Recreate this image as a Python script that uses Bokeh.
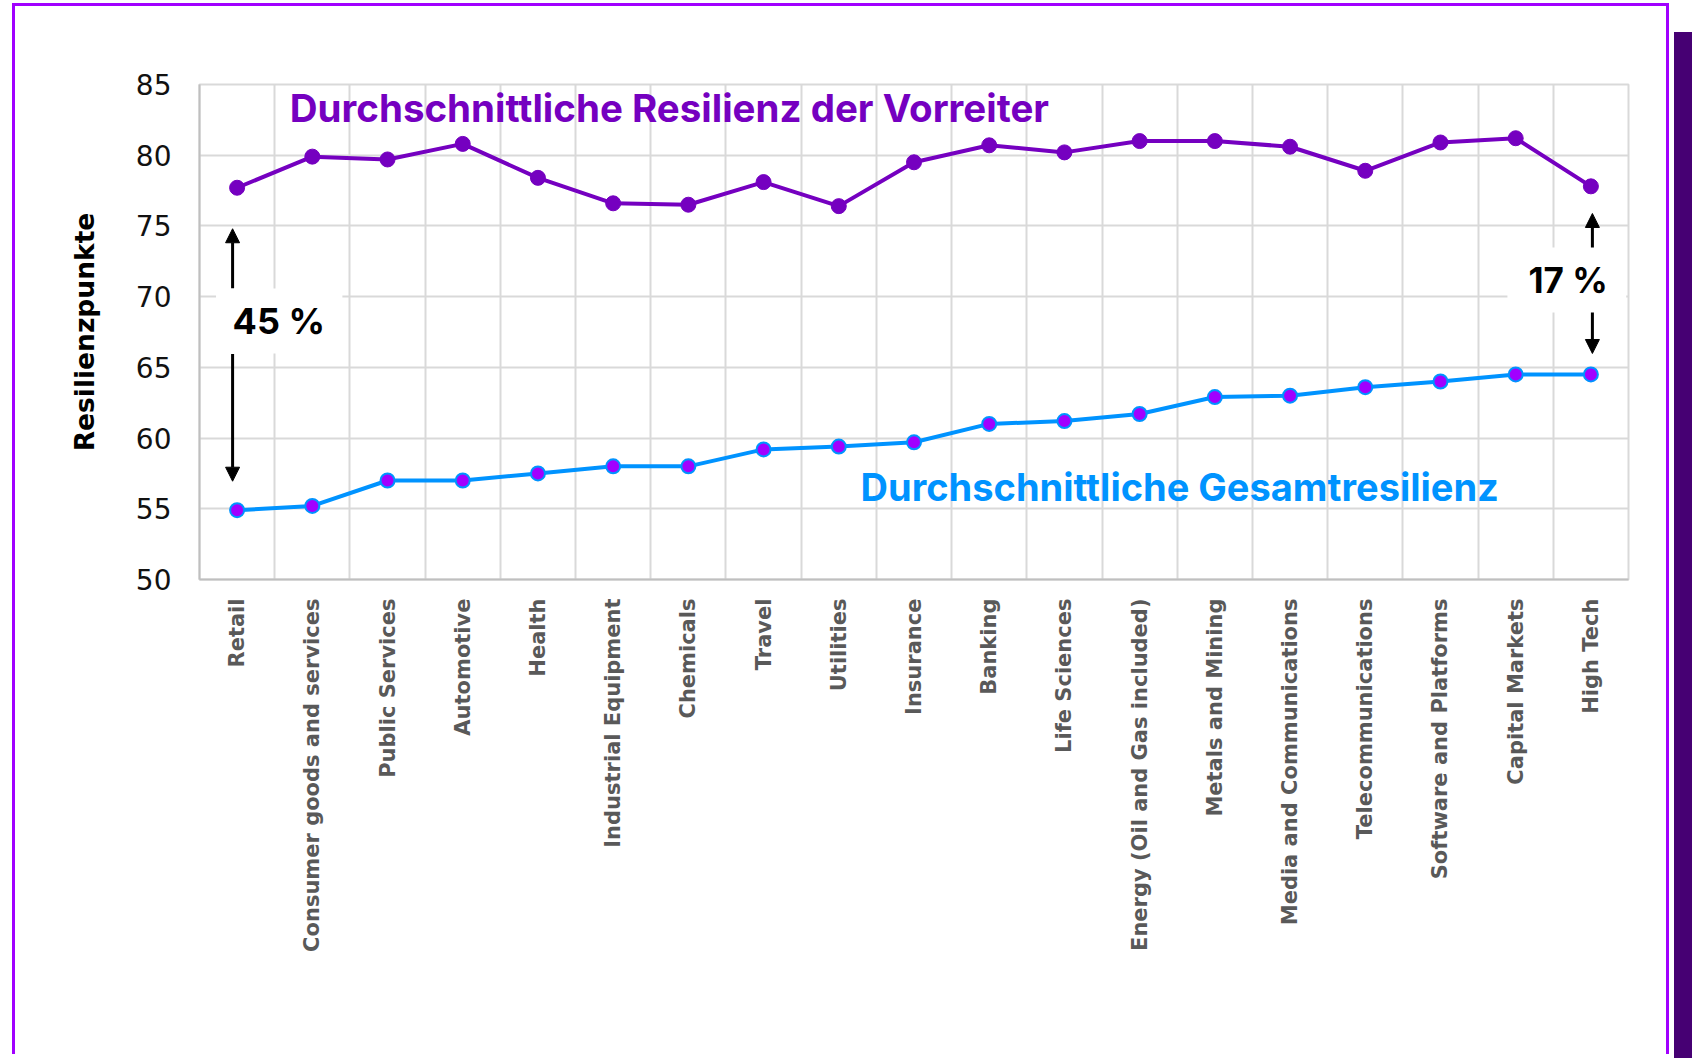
import math
from bokeh.plotting import figure
from bokeh.models import (Range1d, FixedTicker, Label, Arrow, NormalHead, BoxAnnotation, Div)
from bokeh.layouts import row
from bokeh.embed import file_html
from bokeh.resources import INLINE

categories = ["Retail", "Consumer goods and services", "Public Services", "Automotive", "Health",
              "Industrial Equipment", "Chemicals", "Travel", "Utilities", "Insurance", "Banking",
              "Life Sciences", "Energy (Oil and Gas included)", "Metals and Mining",
              "Media and Communications", "Telecommunications", "Software and Platforms",
              "Capital Markets", "High Tech"]
leaders = [77.7, 79.9, 79.7, 80.8, 78.4, 76.6, 76.5, 78.1, 76.4, 79.5, 80.7,
           80.2, 81.0, 81.0, 80.6, 78.9, 80.9, 81.2, 77.8]
overall = [54.9, 55.2, 57.0, 57.0, 57.5, 58.0, 58.0, 59.2, 59.4, 59.7, 61.0,
           61.2, 61.7, 62.9, 63.0, 63.6, 64.0, 64.5, 64.5]
y_ticks = [50, 55, 60, 65, 70, 75, 80, 85]
y_title = "Resilienzpunkte"
leaders_label = "Durchschnittliche Resilienz der Vorreiter"
overall_label = "Durchschnittliche Gesamtresilienz"
gap_labels = ["45 %", "17 %"]

PURPLE = "#7500C0"
BRIGHT = "#A100FF"
BLUE = "#0093FF"
GRID = "#D9D9D9"

n = len(categories)
xs = [i + 0.5 for i in range(n)]

p = figure(width=1657, height=1051, output_backend="svg", toolbar_location=None,
           x_range=Range1d(0, n), y_range=Range1d(50, 85),
           min_border_left=184, min_border_right=44, min_border_top=78, min_border_bottom=478)
p.styles = {"margin-left": "12px", "margin-top": "3px",
            "border-left": "3px solid #A100FF", "border-top": "3px solid #A100FF",
            "border-right": "3px solid #A100FF"}
p.background_fill_color = "white"
p.border_fill_color = "white"
p.outline_line_color = GRID
p.outline_line_width = 2

# axes
p.xaxis.ticker = FixedTicker(ticks=xs)
p.xaxis.major_label_overrides = {x: c for x, c in zip(xs, categories)}
p.xaxis.major_label_orientation = math.pi / 2
p.xaxis.major_label_text_font = "DejaVu Sans"
p.xaxis.major_label_text_font_style = "bold"
p.xaxis.major_label_text_font_size = "21px"
p.xaxis.major_label_text_color = "#595959"
p.xaxis.major_label_standoff = 13
p.xaxis.major_tick_line_color = None
p.xaxis.minor_tick_line_color = None
p.xaxis.axis_line_color = "#BFBFBF"
p.xaxis.axis_line_width = 2

p.yaxis.ticker = FixedTicker(ticks=y_ticks)
p.yaxis.major_label_text_font = "DejaVu Sans"
p.yaxis.major_label_text_font_size = "28px"
p.yaxis.major_label_text_color = "#111111"
p.yaxis.major_label_standoff = 22
p.yaxis.major_tick_line_color = None
p.yaxis.minor_tick_line_color = None
p.yaxis.axis_line_color = "#BFBFBF"
p.yaxis.axis_line_width = 2
p.yaxis.axis_label = y_title
p.yaxis.axis_label_text_font = "DejaVu Sans"
p.yaxis.axis_label_text_font_style = "bold"
p.yaxis.axis_label_text_font_size = "26.5px"
p.yaxis.axis_label_text_color = "black"
p.yaxis.axis_label_standoff = 33

p.xgrid.ticker = FixedTicker(ticks=list(range(n + 1)))
p.xgrid.grid_line_color = GRID
p.xgrid.grid_line_width = 2
p.ygrid.ticker = FixedTicker(ticks=y_ticks)
p.ygrid.grid_line_color = GRID
p.ygrid.grid_line_width = 2

# white boxes behind gap labels
p.add_layout(BoxAnnotation(left=0.22, right=1.9, bottom=65.98, top=70.57,
                           fill_color="white", fill_alpha=1, line_alpha=0))
p.add_layout(BoxAnnotation(left=17.39, right=18.97, bottom=68.88, top=73.47,
                           fill_color="white", fill_alpha=1, line_alpha=0))

# series
p.line(xs, leaders, line_color=PURPLE, line_width=4)
p.scatter(xs, leaders, size=15, fill_color=PURPLE, line_color=PURPLE, line_width=1)
p.line(xs, overall, line_color=BLUE, line_width=4)
p.scatter(xs, overall, size=14, fill_color=BRIGHT, line_color=BLUE, line_width=2)

# series labels
p.add_layout(Label(x=1.2, y=83.33, text=leaders_label, text_font="Inter", text_font_style="bold",
                   text_font_size="38.5px", text_color=PURPLE, text_baseline="alphabetic"))
p.add_layout(Label(x=8.79, y=56.55, text=overall_label, text_font="Inter", text_font_style="bold",
                   text_font_size="38px", text_color=BLUE, text_baseline="alphabetic"))

# gap arrows
def arr(x, y0, y1):
    p.add_layout(Arrow(x_start=x, y_start=y0, x_end=x, y_end=y1, line_width=3, line_color="black",
                       end=NormalHead(size=14, fill_color="black", line_color="black")))

arr(0.44, 70.6, 74.8)
arr(0.44, 65.95, 56.95)
arr(18.52, 73.47, 75.88)
arr(18.52, 68.88, 65.98)

p.add_layout(Label(x=0.44, y=68.25, text=gap_labels[0], text_font="Inter", text_font_style="bold",
                   text_font_size="36px", text_color="black", text_baseline="alphabetic"))
p.add_layout(Label(x=17.67, y=71.15, text=gap_labels[1], text_font="Inter", text_font_style="bold",
                   text_font_size="35px", text_color="black", text_baseline="alphabetic"))

bar = Div(text="", width=18, height=1026,
          styles={"background-color": "#460073", "margin-top": "32px"})

layout = row(p, bar)
open("out.html", "w").write(file_html(layout, INLINE))
